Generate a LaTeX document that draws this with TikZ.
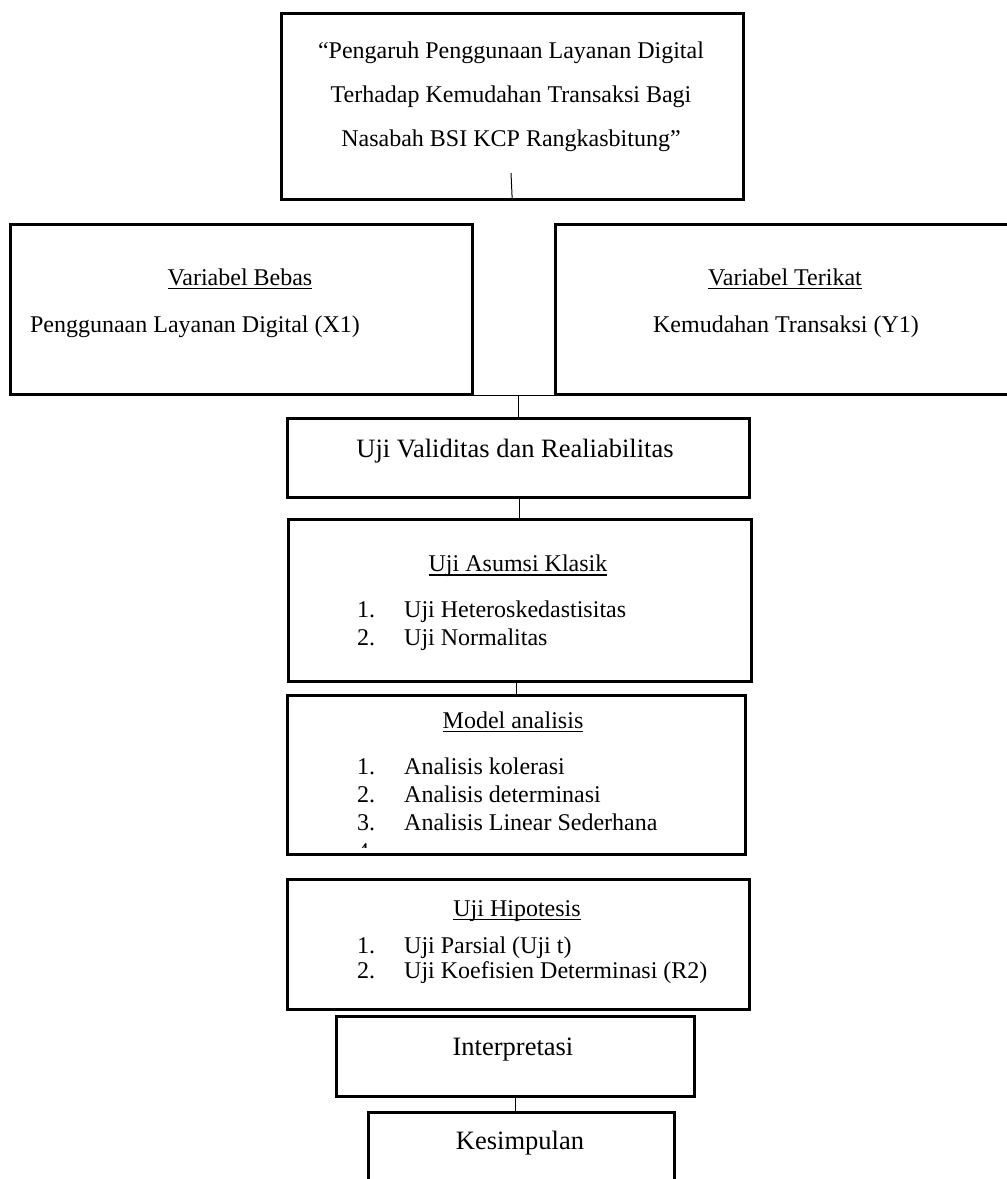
\documentclass[tikz,border=0pt]{standalone}
\usepackage{fontspec}
\setmainfont{Liberation Serif}
\usetikzlibrary{positioning}

\newcommand{\garisbawah}[1]{\setbox0=\hbox{#1}\leavevmode\rlap{\rule[-4pt]{\wd0}{1.5pt}}\box0}

\tikzset{
  kotak/.style={draw, line width=2.5pt, anchor=north west, inner sep=0pt},
  sambung/.style={line width=1pt},
  teks/.style={inner sep=0pt, font=\fontsize{24}{28}\selectfont},
  teksbesar/.style={inner sep=0pt, font=\fontsize{26.5}{30}\selectfont},
  daftar/.style={teks, anchor=west, align=left}
}

\begin{document}
\begin{tikzpicture}[x=1pt, y=-1pt]
\useasboundingbox (0,0) rectangle (1007,1179);
%judul
\node[kotak, minimum width=462pt, minimum height=186pt] (judul) at (280,12) {};
\node[teks, align=center, font=\fontsize{24}{44}\selectfont] (judulteks) at (511,96.5)
  {“Pengaruh Penggunaan Layanan Digital\\Terhadap Kemudahan Transaksi Bagi\\Nasabah BSI KCP Rangkasbitung”};
\coordinate (judulgaris) at (511,173);
\draw[sambung] (judulgaris) -- (judul.south);
%variabel
\node[kotak, minimum width=462pt, minimum height=170pt] (bebas) at (9,223) {};
\node[teks] (bebasjudul) at (240,279) {\garisbawah{Variabel Bebas}};
\node[teks] (bebasisi) at (195,327) {Penggunaan Layanan Digital (X1)};
\node[kotak, minimum width=470pt, minimum height=170pt] (terikat) at (554,223) {};
\node[teks] (terikatjudul) at (785,279) {\garisbawah{Variabel Terikat}};
\node[teks] (terikatisi) at (786,327) {Kemudahan Transaksi (Y1)};
%validitas
\node[kotak, minimum width=462pt, minimum height=79pt] (validitas) at (286,417) {};
\node[teksbesar] (validitasteks) at (515,451) {Uji Validitas dan Realiabilitas};
\draw[sambung] (bebas.south east) -- (terikat.south west);
\draw[sambung] (validitas.north) -- (validitas.north |- bebas.south);
%asumsi klasik
\node[kotak, minimum width=463pt, minimum height=162pt] (asumsi) at (287,518) {};
\node[teks] (asumsijudul) at (518,566) {\garisbawah{Uji Asumsi Klasik}};
\node[daftar] (asumsiisi) at (357,626) {\begin{tabular}{@{}p{47pt}@{}l@{}}1. & Uji Heteroskedastisitas\\2. & Uji Normalitas\end{tabular}};
\draw[sambung] (asumsi.north) -- (asumsi.north |- validitas.south);
%model analisis
\node[kotak, minimum width=458pt, minimum height=159pt] (model) at (286,694) {};
\node[teks] (modeljudul) at (513,722) {\garisbawah{Model analisis}};
\node[daftar] (modelisi) at (357,797) {\begin{tabular}{@{}p{47pt}@{}l@{}}1. & Analisis kolerasi\\2. & Analisis determinasi\\3. & Analisis Linear Sederhana\end{tabular}};
\begin{scope}
\clip (model.north west) rectangle ([yshift=8pt]model.south east);
\node[teks, anchor=base west] (modelempat) at (357,859) {4.};
\end{scope}
\draw[sambung] (model.north) -- (model.north |- asumsi.south);
%hipotesis
\node[kotak, minimum width=462pt, minimum height=130pt] (hipotesis) at (286,878) {};
\node[teks] (hipotesisjudul) at (517,911) {\garisbawah{Uji Hipotesis}};
\node[daftar, font=\fontsize{24}{25.5}\selectfont] (hipotesisisi) at (357,961) {\begin{tabular}{@{}p{47pt}@{}l@{}}1. & Uji Parsial (Uji t)\\2. & Uji Koefisien Determinasi (R2)\end{tabular}};
%interpretasi, kesimpulan
\node[kotak, minimum width=358pt, minimum height=80pt] (interpretasi) at (335,1015) {};
\node[teksbesar] (interpretasiteks) at (513,1050) {Interpretasi};
\node[kotak, minimum width=306pt, minimum height=100pt] (kesimpulan) at (367,1111) {};
\node[teksbesar] (kesimpulanteks) at (520,1143) {Kesimpulan};
\draw[sambung] (interpretasi.south) -- (interpretasi.south |- kesimpulan.north);
\end{tikzpicture}
\end{document}
